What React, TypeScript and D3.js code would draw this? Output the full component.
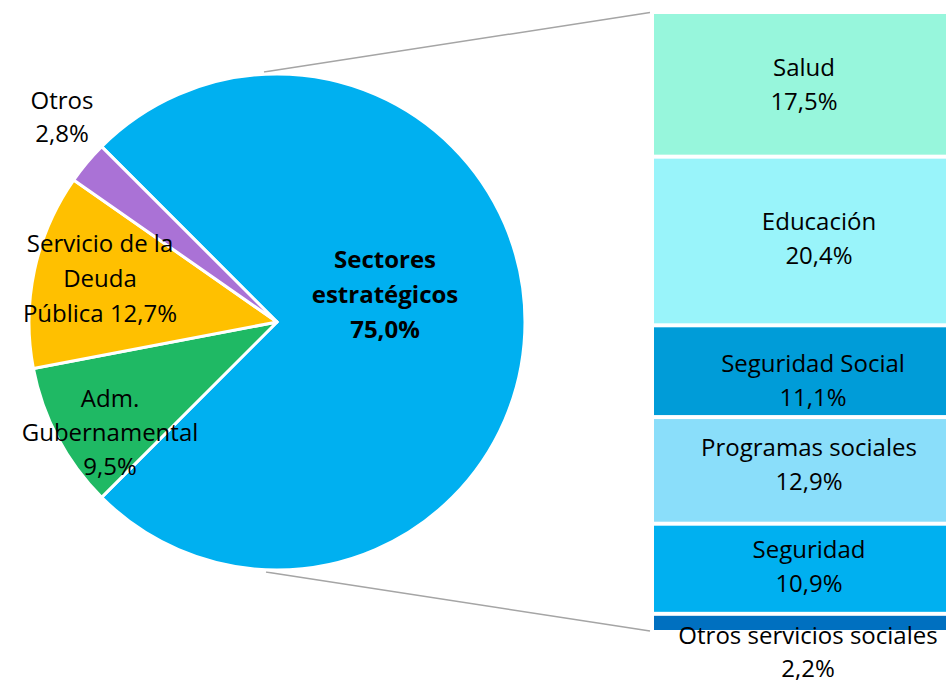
import React from "react";
import * as d3 from "d3";

// ---- data ----
const sliceNames = ["Sectores estratégicos", "Adm. Gubernamental", "Servicio de la Deuda Pública", "Otros"];
const sliceValues = [75.0, 9.5, 12.7, 2.8];
const sliceLabelLines = [["Sectores", "estratégicos"], ["Adm.", "Gubernamental"], ["Servicio de la", "Deuda", "Pública"], ["Otros"]];
const sliceValueInline = [false, false, true, false];
const sliceColors = ["#00B0F0", "#1FB964", "#FFC000", "#AA72D6"];

const barNames = ["Salud", "Educación", "Seguridad Social", "Programas sociales", "Seguridad", "Otros servicios sociales"];
const barValues = [17.5, 20.4, 11.1, 12.9, 10.9, 2.2];
const barColors = ["#97F6DC", "#99F4FA", "#009CD8", "#8ADEFA", "#00B0F0", "#0070C0"];

// ---- layout ----
const W = 946, H = 684;
const cx = 277, cy = 322, R = 248;
const barX = 654, barW = 330;
const FONT = "'Open Sans', 'Liberation Sans', sans-serif";
const FS = 24;

// label placement tweaks (relative to pie centre): [dx, first baseline dy, line height]
const sliceLabelPos = [[108, -54, 35], [-167, 85, 34], [-177, -70, 35], [-215, -213, 33]];
// bar label tweaks: [dx from bar centre, dy]
const barLabelPos = [[4, 0], [19, -3], [13, 9], [9, -6], [9, -3], [8, 0]];

const fmt = (v: number) => d3.format(".1f")(v).replace(".", ",") + "%";

export default function App() {
  const pie = d3.pie<number>().sort(null).startAngle(-Math.PI / 4).endAngle((7 * Math.PI) / 4);
  const arcs = pie(sliceValues);
  const arcGen = d3.arc<d3.PieArcDatum<number>>().innerRadius(0).outerRadius(R);

  const total = d3.sum(barValues);
  const y = d3.scaleLinear().domain([0, total]).range([12, 632]);
  const cum = d3.cumsum(barValues);
  const segs = barValues.map((v, i) => ({ v, i, y0: y(cum[i] - v), y1: y(cum[i]) }));
  const barCx = barX + 146;

  return (
    <svg width={W} height={H} style={{ position: "absolute", left: 0, top: 0, background: "#fff" }} fontFamily={FONT}>
      {/* connector lines */}
      <line x1={cx - 13} y1={cy - R - 2} x2={barX - 4} y2={y(0) + 0.5} stroke="#A5A5A5" strokeWidth={1.5} />
      <line x1={cx - 11} y1={cy + R + 2} x2={barX - 4} y2={y(total) - 1} stroke="#A5A5A5" strokeWidth={1.5} />

      {/* pie */}
      <g transform={`translate(${cx},${cy})`}>
        {arcs.map((a, i) => (
          <path key={sliceNames[i]} d={arcGen(a) || ""} fill={sliceColors[i]} stroke="#fff" strokeWidth={3} strokeLinejoin="round" />
        ))}
        {arcs.map((a, i) => {
          const [dx, dy, lh] = sliceLabelPos[i];
          const lines = sliceLabelLines[i].slice();
          if (sliceValueInline[i]) lines[lines.length - 1] = lines[lines.length - 1] + " " + fmt(a.data);
          else lines.push(fmt(a.data));
          return (
            <text key={"l" + i} x={dx} y={dy} textAnchor="middle" fontSize={FS} fontWeight={i === 0 ? 700 : 400} fill="#000">
              {lines.map((t, k) => (
                <tspan key={k} x={dx} y={dy + k * lh}>{t}</tspan>
              ))}
            </text>
          );
        })}
      </g>

      {/* bar */}
      {segs.map((s) => (
        <rect key={barNames[s.i]} x={barX} y={s.y0 + 2} width={barW} height={Math.max(0, s.y1 - s.y0 - 4)} fill={barColors[s.i]} />
      ))}
      {segs.map((s) => {
        const [dx, dy] = barLabelPos[s.i];
        const last = s.i === segs.length - 1;
        const mid = (s.y0 + s.y1) / 2;
        const b0 = last ? s.y1 + 12 : mid - 8 + dy;
        const lh = last ? 33 : 34;
        return (
          <text key={"b" + s.i} x={barCx + dx} y={b0} textAnchor="middle" fontSize={FS} fill="#000">
            <tspan x={barCx + dx} y={b0}>{barNames[s.i]}</tspan>
            <tspan x={barCx + dx} y={b0 + lh}>{fmt(s.v)}</tspan>
          </text>
        );
      })}
    </svg>
  );
}
